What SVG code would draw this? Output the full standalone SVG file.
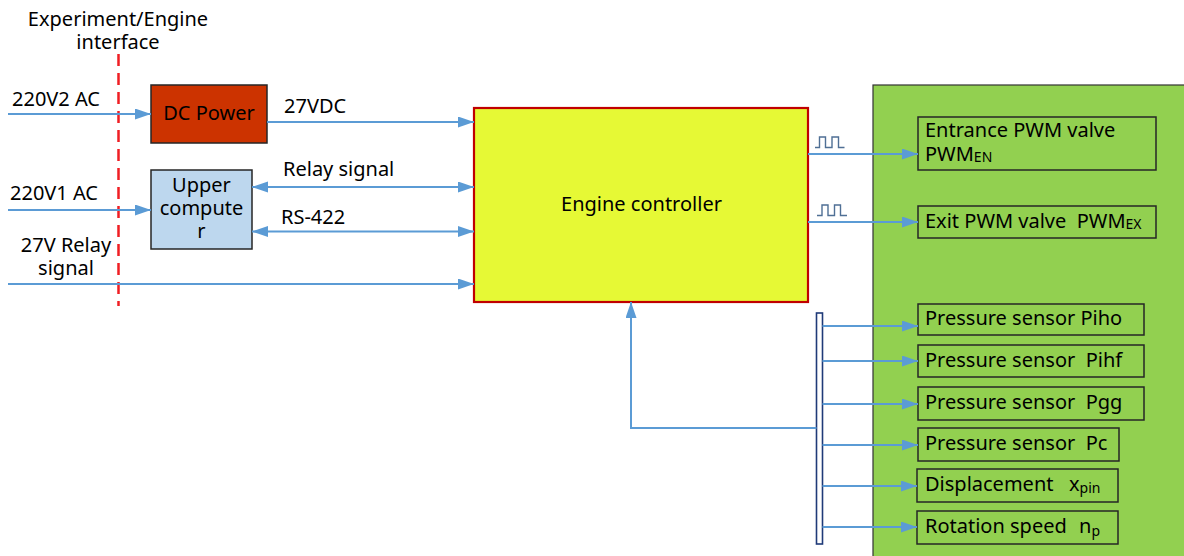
<svg xmlns="http://www.w3.org/2000/svg" width="1184" height="556" viewBox="0 0 1184 556">
<style>
text{font-family:"Noto Sans","Open Sans","DejaVu Sans",sans-serif;font-size:20px;fill:#000;white-space:pre}
.sub{font-size:14px}
.wire{fill:none;stroke:#5b9bd5;stroke-width:2}
.arr{marker-end:url(#ah)}
.dbl{marker-start:url(#ah);marker-end:url(#ah)}
.box{stroke:#262626;stroke-width:1.5}
.pulse{fill:none;stroke:#4f6f95;stroke-width:1.4}
</style>
<defs>
<marker id="ah" markerUnits="userSpaceOnUse" markerWidth="17" markerHeight="12" refX="16" refY="5.5" orient="auto-start-reverse">
<path d="M0,0 L16,5.5 L0,11 z" fill="#5b9bd5"/>
</marker>
</defs>
<rect width="1184" height="556" fill="#fff"/>

<g id="interface">
<line x1="118.5" y1="54" x2="118.5" y2="306" stroke="#f01e23" stroke-width="2.5" stroke-dasharray="12 7"/>
<text x="118" y="26" text-anchor="middle">Experiment/Engine</text>
<text x="118" y="49" text-anchor="middle">interface</text>
</g>

<g id="green-area">
<rect x="873" y="85" width="330" height="490" fill="#92d050" stroke="#333" stroke-width="1.2"/>
</g>

<g id="dc-power">
<rect class="box" x="151" y="85" width="116" height="58" fill="#cc3300"/>
<text x="209" y="120" text-anchor="middle">DC Power</text>
</g>

<g id="upper-computer">
<rect class="box" x="151" y="170" width="101" height="79" fill="#bdd7ee"/>
<text x="201.5" y="192" text-anchor="middle">Upper</text>
<text x="201.5" y="215" text-anchor="middle">compute</text>
<text x="201.5" y="238" text-anchor="middle">r</text>
</g>

<g id="engine-controller">
<rect x="474" y="108" width="334" height="194" fill="#e6f935" stroke="#c00000" stroke-width="2.2"/>
<text x="641.5" y="211" text-anchor="middle">Engine controller</text>
</g>

<g id="entrance-pwm">
<rect class="box" x="918" y="117" width="238" height="53" fill="#92d050"/>
<text x="925" y="137">Entrance PWM valve</text>
<text x="925" y="161">PWM<tspan class="sub" dy="1">EN</tspan></text>
</g>

<g id="exit-pwm">
<rect class="box" x="918" y="206" width="238" height="32" fill="#92d050"/>
<text x="925" y="228">Exit PWM valve  PWM<tspan class="sub" dy="1">EX</tspan></text>
</g>

<g id="sensor-piho">
<rect class="box" x="918" y="304" width="226" height="31" fill="#92d050"/>
<text x="925" y="325">Pressure sensor Piho</text>
</g>
<g id="sensor-pihf">
<rect class="box" x="918" y="345" width="226" height="32" fill="#92d050"/>
<text x="925" y="367">Pressure sensor  Pihf</text>
</g>
<g id="sensor-pgg">
<rect class="box" x="918" y="387" width="226" height="33" fill="#92d050"/>
<text x="925" y="409">Pressure sensor  Pgg</text>
</g>
<g id="sensor-pc">
<rect class="box" x="918" y="428" width="201" height="33" fill="#92d050"/>
<text x="925" y="450">Pressure sensor  Pc</text>
</g>
<g id="displacement">
<rect class="box" x="917" y="469" width="201" height="33" fill="#92d050"/>
<text x="925" y="491">Displacement</text>
<text x="1069" y="491">x<tspan class="sub" dy="2">pin</tspan></text>
</g>
<g id="rotation-speed">
<rect class="box" x="917" y="511" width="201" height="33" fill="#92d050"/>
<text x="925" y="533">Rotation speed</text>
<text x="1079" y="533">n<tspan class="sub" dy="3">p</tspan></text>
</g>

<g id="bus">
<rect x="816.5" y="313" width="6" height="231" fill="#fff" stroke="#1f3a78" stroke-width="1.6"/>
</g>

<g id="connectors">
<line class="wire arr" x1="8" y1="114" x2="151" y2="114"/>
<text x="12" y="106">220V2 AC</text>
<line class="wire arr" x1="8" y1="210" x2="151" y2="210"/>
<text x="10" y="200">220V1 AC</text>
<line class="wire arr" x1="8" y1="284" x2="474" y2="284"/>
<text x="66" y="252" text-anchor="middle">27V Relay</text>
<text x="66" y="275" text-anchor="middle">signal</text>
<line class="wire arr" x1="267" y1="122" x2="474" y2="122"/>
<text x="284" y="113">27VDC</text>
<line class="wire dbl" x1="252" y1="187" x2="474" y2="187"/>
<text x="283" y="176">Relay signal</text>
<line class="wire dbl" x1="252" y1="231.5" x2="474" y2="231.5"/>
<text x="281" y="224">RS-422</text>
<line class="wire arr" x1="808" y1="154" x2="918" y2="154"/>
<path class="pulse" d="M815,147.5 H819.5 V137 H825.5 V147.5 H832 V137 H838.5 V147.5 H844.5"/>
<line class="wire arr" x1="808" y1="222" x2="918" y2="222"/>
<path class="pulse" d="M817,215.5 H822 V205 H828 V215.5 H834.5 V205 H840.5 V215.5 H847"/>
<polyline class="wire arr" points="816.5,428 631,428 631,302"/>
<line class="wire arr" x1="822.5" y1="326" x2="918" y2="326"/>
<line class="wire arr" x1="822.5" y1="361" x2="918" y2="361"/>
<line class="wire arr" x1="822.5" y1="404" x2="918" y2="404"/>
<line class="wire arr" x1="822.5" y1="445" x2="918" y2="445"/>
<line class="wire arr" x1="822.5" y1="486" x2="917" y2="486"/>
<line class="wire arr" x1="822.5" y1="527" x2="917" y2="527"/>
</g>
</svg>
